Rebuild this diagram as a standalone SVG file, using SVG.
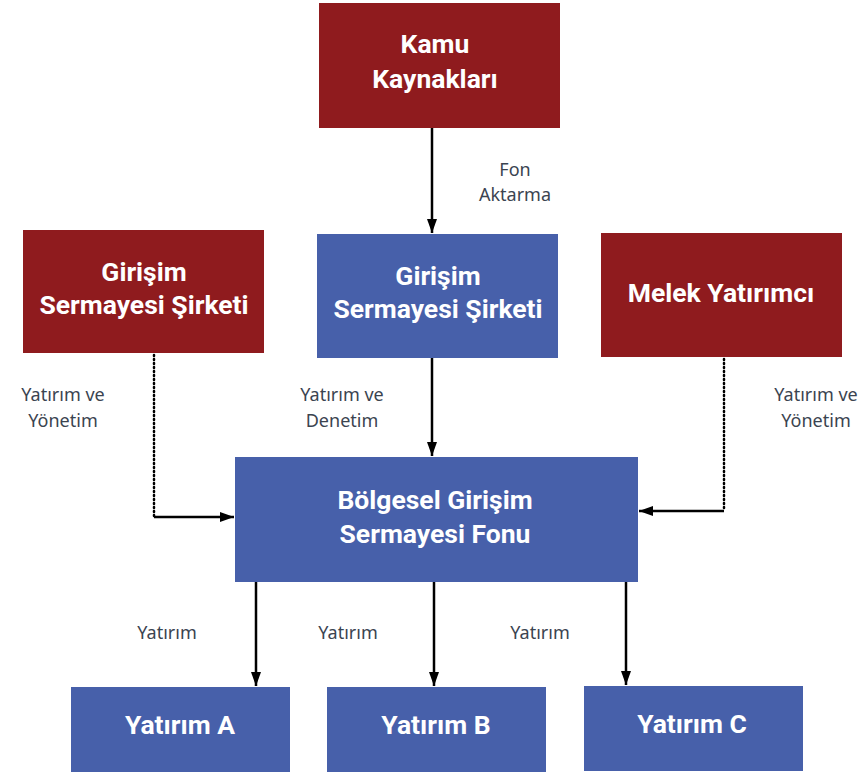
<svg xmlns="http://www.w3.org/2000/svg" width="858" height="772" viewBox="0 0 858 772">
<defs>
<style>
.red{fill:#8f1b1e}
.blue{fill:#4760aa}
.t{font-family:Roboto,"Noto Sans",sans-serif;font-weight:bold;font-size:26.5px;fill:#ffffff;text-anchor:middle}
.l{font-family:"Noto Sans","Open Sans",sans-serif;font-size:18px;fill:#3b4450;text-anchor:middle}
.c{stroke:#000;stroke-width:2.5;fill:none}
.d{stroke:#000;stroke-width:2.5;fill:none;stroke-dasharray:1 3;stroke-linecap:round}
</style>
<marker id="ah" viewBox="0 0 14 10" refX="14" refY="5" markerWidth="5.6" markerHeight="4.8" orient="auto" markerUnits="strokeWidth">
<path d="M0,0 L14,5 L0,10 z" fill="#000"/>
</marker>
</defs>
<rect width="858" height="772" fill="#fff"/>
<g id="kamu"><rect class="red" x="319" y="3" width="241" height="125"/><text class="t" x="435" y="53">Kamu</text><text class="t" x="435" y="88">Kaynakları</text></g>
<g id="gss-left"><rect class="red" x="23" y="230" width="241" height="123"/><text class="t" x="144" y="281">Girişim</text><text class="t" x="144" y="314">Sermayesi Şirketi</text></g>
<g id="gss-center"><rect class="blue" x="317" y="234" width="241" height="124"/><text class="t" x="438" y="285">Girişim</text><text class="t" x="438" y="318">Sermayesi Şirketi</text></g>
<g id="melek"><rect class="red" x="601" y="233" width="241" height="124"/><text class="t" x="721" y="302">Melek Yatırımcı</text></g>
<g id="fon"><rect class="blue" x="235" y="457" width="403" height="125"/><text class="t" x="435" y="509">Bölgesel Girişim</text><text class="t" x="435" y="543">Sermayesi Fonu</text></g>
<g id="yatirim-a"><rect class="blue" x="71" y="687" width="219" height="85"/><text class="t" x="180" y="734">Yatırım A</text></g>
<g id="yatirim-b"><rect class="blue" x="327" y="687" width="219" height="85"/><text class="t" x="436" y="734">Yatırım B</text></g>
<g id="yatirim-c"><rect class="blue" x="584" y="686" width="219" height="85"/><text class="t" x="692" y="733">Yatırım C</text></g>
<g id="connectors">
<line class="c" x1="432" y1="128" x2="432" y2="233" marker-end="url(#ah)"/>
<line class="c" x1="432" y1="358" x2="432" y2="456" marker-end="url(#ah)"/>
<path class="d" d="M154,355 L154,517"/>
<line class="c" x1="154" y1="517" x2="234" y2="517" marker-end="url(#ah)"/>
<path class="d" d="M724,359 L724,511"/>
<line class="c" x1="724" y1="511" x2="639" y2="511" marker-end="url(#ah)"/>
<line class="c" x1="256" y1="582" x2="256" y2="686" marker-end="url(#ah)"/>
<line class="c" x1="434" y1="582" x2="434" y2="686" marker-end="url(#ah)"/>
<line class="c" x1="626" y1="582" x2="626" y2="685" marker-end="url(#ah)"/>
</g>
<g id="labels">
<text class="l" x="515" y="176">Fon</text><text class="l" x="515" y="201">Aktarma</text>
<text class="l" x="342" y="401">Yatırım ve</text><text class="l" x="342" y="427">Denetim</text>
<text class="l" x="63" y="401">Yatırım ve</text><text class="l" x="63" y="427">Yönetim</text>
<text class="l" x="816" y="401">Yatırım ve</text><text class="l" x="816" y="427">Yönetim</text>
<text class="l" x="167" y="639">Yatırım</text>
<text class="l" x="348" y="639">Yatırım</text>
<text class="l" x="540" y="639">Yatırım</text>
</g>
</svg>
